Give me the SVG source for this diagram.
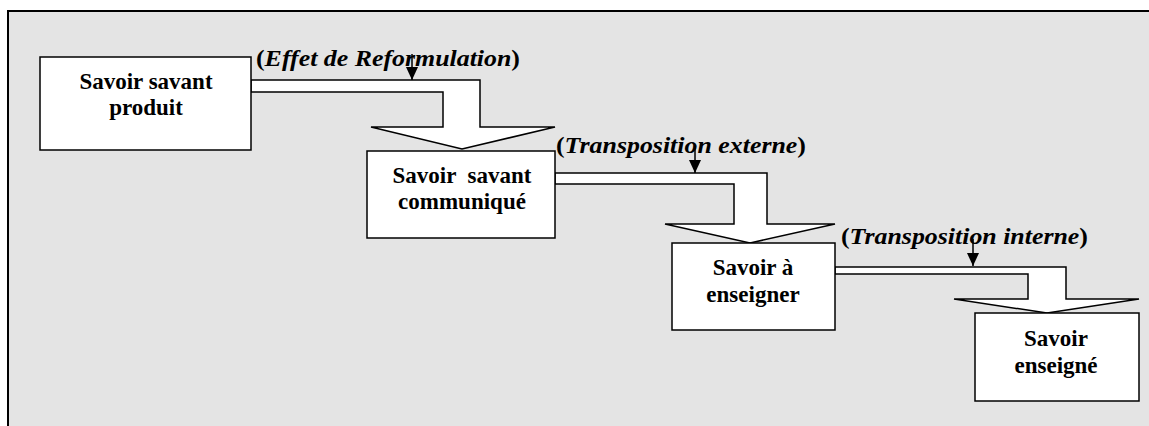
<svg xmlns="http://www.w3.org/2000/svg" width="1149" height="426" viewBox="0 0 1149 426">
<style>
.box{fill:#fff;stroke:#000;stroke-width:1.5}
.conn{fill:#fff;stroke:#000;stroke-width:1.5;stroke-linejoin:miter}
.pt{stroke:#000;stroke-width:1.5;fill:none}
.t{font-family:"Liberation Serif","Times New Roman",serif;font-weight:bold;font-size:23px;fill:#000}
.lbl{font-family:"Liberation Serif","Times New Roman",serif;font-weight:bold;font-size:23px;fill:#000}
.it{font-style:italic}
</style>
<defs>
<marker id="tri" markerUnits="userSpaceOnUse" markerWidth="14" markerHeight="13" refX="13" refY="6" orient="auto">
<path d="M0,0 L13,6 L0,12 z" fill="#000"/>
</marker>
</defs>
<rect x="8" y="11" width="1200" height="500" fill="#e4e4e4" stroke="#000" stroke-width="2"/>
<g id="connectors">
<polygon class="conn" points="251,80 480,80 480,127 555,127 462,149 371,127 443,127 443,92 251,92"/>
<polygon class="conn" points="555,173 767,173 767,224 835,224 750,243 665,224 734,224 734,184 555,184"/>
<polygon class="conn" points="835,267 1066,267 1066,299 1139,299 1047,313 954,299 1028,299 1028,274 835,274"/>
<line class="pt" x1="412" y1="54" x2="412" y2="80" marker-end="url(#tri)"/>
<line class="pt" x1="695" y1="147" x2="695" y2="173" marker-end="url(#tri)"/>
<line class="pt" x1="973" y1="239" x2="973" y2="266" marker-end="url(#tri)"/>
<text class="lbl" x="256" y="66" textLength="264" lengthAdjust="spacingAndGlyphs">(<tspan class="it">Effet de Reformulation</tspan>)</text>
<text class="lbl" x="556" y="153" textLength="250" lengthAdjust="spacingAndGlyphs">(<tspan class="it">Transposition externe</tspan>)</text>
<text class="lbl" x="841" y="244" textLength="247" lengthAdjust="spacingAndGlyphs">(<tspan class="it">Transposition interne</tspan>)</text>
</g>
<g id="node1">
<rect class="box" x="40" y="57" width="211" height="93"/>
<text class="t" text-anchor="middle"><tspan x="146" y="89">Savoir savant</tspan><tspan x="146" y="115">produit</tspan></text>
</g>
<g id="node2">
<rect class="box" x="367" y="151" width="188" height="87"/>
<text class="t" text-anchor="middle" xml:space="preserve"><tspan x="462" y="183">Savoir  savant</tspan><tspan x="462" y="209">communiqué</tspan></text>
</g>
<g id="node3">
<rect class="box" x="672" y="243" width="163" height="87"/>
<text class="t" text-anchor="middle"><tspan x="753" y="275">Savoir à</tspan><tspan x="753" y="302">enseigner</tspan></text>
</g>
<g id="node4">
<rect class="box" x="975" y="313" width="164" height="88"/>
<text class="t" text-anchor="middle"><tspan x="1056" y="346">Savoir</tspan><tspan x="1056" y="373">enseigné</tspan></text>
</g>
</svg>
